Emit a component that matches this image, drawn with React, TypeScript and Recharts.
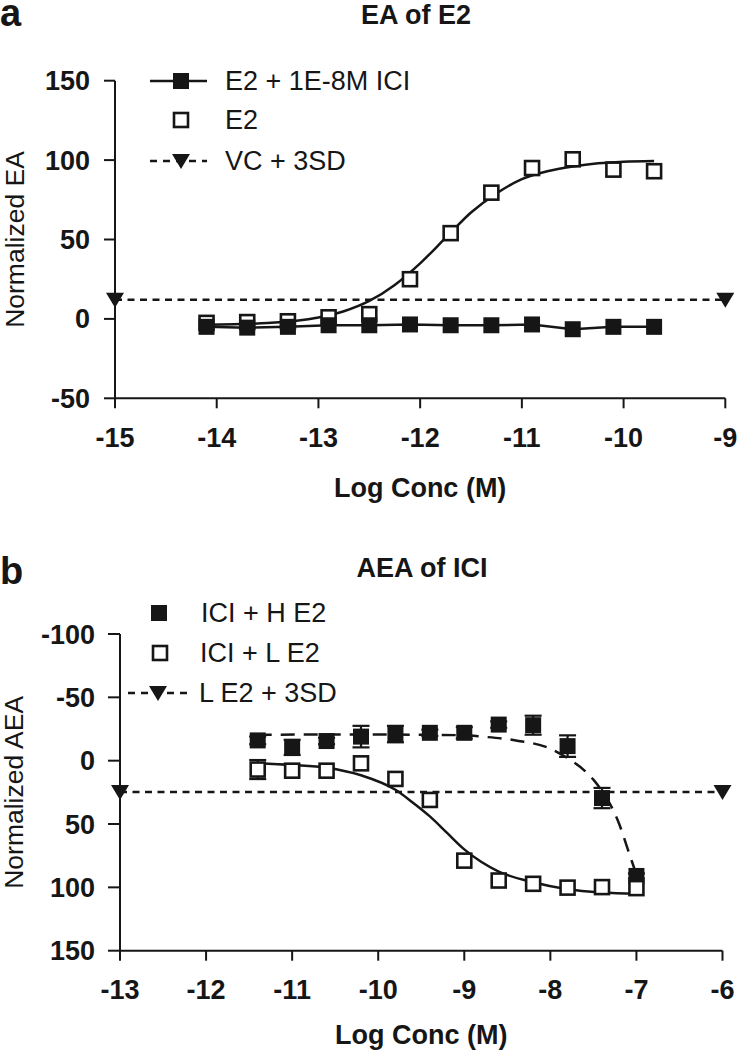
import React from 'react';
import { ComposedChart, Line, Scatter, XAxis, YAxis, ErrorBar, Legend } from 'recharts';

const FONT = '"Liberation Sans", Arial, Helvetica, sans-serif';
const INK = '#161616';

// ---------- Panel a : EA of E2 ----------
const aTicksX = [-15, -14, -13, -12, -11, -10, -9];
const aTicksY = [-50, 0, 50, 100, 150];
const aConc = [-14.1, -13.7, -13.3, -12.9, -12.5, -12.1, -11.7, -11.3, -10.9, -10.5, -10.1, -9.7];
const aE2ICI = [-5, -5.5, -5, -4, -4, -3.5, -4, -4, -3.5, -6.5, -5, -5];
const aE2 = [-2.5, -2, -1.5, 1, 3, 25, 54, 79.5, 95, 100.5, 94, 93];
const aFitConc = [-14.1, -13.5, -13, -12.75, -12.5, -12.25, -12, -11.75, -11.5, -11.25, -11, -10.75, -10.5, -10.25, -10, -9.7];
const aFitE2 = [-3.7, -2.6, 0.9, 4.8, 11.3, 21.4, 35, 51, 67, 79, 88, 93, 96, 98, 99, 99.5];
const aVCConc = [-15, -9];
const aVC = [12, 12];

// ---------- Panel b : AEA of ICI ----------
const bTicksX = [-13, -12, -11, -10, -9, -8, -7, -6];
const bTicksY = [-100, -50, 0, 50, 100, 150];
const bConc = [-11.4, -11, -10.6, -10.2, -9.8, -9.4, -9, -8.6, -8.2, -7.8, -7.4, -7];
const bHighE2 = [-16, -10.5, -15.5, -19, -21, -22, -22, -28.5, -28, -11.5, 29.5, 91];
const bHighErr = [3, 6, 2.5, 8.5, 6.5, 2.5, 4.5, 2.5, 7.5, 8.5, 8, 2];
const bLowE2 = [7, 7.9, 7.9, 2.1, 14.4, 31, 78.9, 94.6, 97.2, 100.2, 99.8, 100.6];
const bLowErr = [7.5, 0, 0, 0, 0, 0, 0, 0, 0, 0, 0, 0];
const bFitHighConc = [-11.4, -10.6, -10, -9.5, -9, -8.8, -8.4, -8, -7.8, -7.6, -7.5, -7.4, -7.3, -7.2, -7.1, -7];
const bFitHigh = [-20.5, -20.6, -20.6, -20.5, -20, -19, -16, -9.5, -2, 8, 15, 24, 35, 50, 70, 90];
const bFitLowConc = [-11.4, -11, -10.6, -10.2, -9.8, -9.6, -9.4, -9.2, -9, -8.8, -8.6, -8.2, -7.8, -7.4, -7];
const bFitLow = [2, 3.4, 5.5, 11.5, 23, 33, 44, 57, 70, 80, 87.5, 96, 101.5, 104, 105];
const bRefConc = [-13, -6];
const bRef = [24.7, 24.7];

const pts = (xs: number[], ys: number[], errs?: number[]) =>
  xs.map((x, i) => (errs ? { x, y: ys[i], err: errs[i] } : { x, y: ys[i] }));

const aE2ICIData = pts(aConc, aE2ICI);
const aE2Data = pts(aConc, aE2);
const aFitData = pts(aFitConc, aFitE2);
const aVCData = pts(aVCConc, aVC);

const bHighData = pts(bConc, bHighE2, bHighErr);
const bLowData = pts(bConc, bLowE2, bLowErr);
const bLowErrData = bLowData.filter((d: any) => d.err > 0);
const bFitHighData = pts(bFitHighConc, bFitHigh);
const bFitLowData = pts(bFitLowConc, bFitLow);
const bRefData = pts(bRefConc, bRef);

const OpenSquare = (p: any) =>
  p.cx == null ? null : (
    <rect x={p.cx - 7} y={p.cy - 7} width={14} height={14} fill="#fff" stroke={INK} strokeWidth={2.6} />
  );
const FilledSquare = (p: any) =>
  p.cx == null ? null : <rect x={p.cx - 8} y={p.cy - 8} width={16} height={16} fill={INK} />;
const DownTriangle = (p: any) =>
  p.cx == null ? null : (
    <polygon points={`${p.cx - 9},${p.cy - 7} ${p.cx + 9},${p.cy - 7} ${p.cx},${p.cy + 8}`} fill={INK} />
  );
const Nothing = () => <g />;

const tickStyle = { fill: INK, fontSize: 27, fontWeight: 700, fontFamily: FONT };
const lineStyle = { stroke: INK, strokeWidth: 2 };

const yLabel = (text: string, x: number) => (props: any) => {
  const vb = props.viewBox || {};
  const cy = vb.y + vb.height / 2;
  return (
    <text
      x={x}
      y={cy}
      transform={`rotate(-90 ${x} ${cy})`}
      textAnchor="middle"
      dominantBaseline="central"
      fontFamily={FONT}
      fontSize={26.5}
      fill={INK}
    >
      {text}
    </text>
  );
};

const xLabel = (text: string, dy: number) => (props: any) => {
  const vb = props.viewBox || {};
  return (
    <text
      x={vb.x + vb.width / 2}
      y={vb.y + dy}
      textAnchor="middle"
      dominantBaseline="central"
      fontFamily={FONT}
      fontSize={27}
      fontWeight={700}
      fill={INK}
    >
      {text}
    </text>
  );
};

const txt = { fontFamily: FONT, fontSize: 27, fill: INK };

const OverlayA = () => (
  <svg width={738} height={510} style={{ display: 'block' }}>
    <text x={0} y={13} dominantBaseline="central" fontFamily={FONT} fontSize={38} fontWeight={700} fill={INK}>a</text>
    <text x={416} y={14.5} textAnchor="middle" dominantBaseline="central" fontFamily={FONT} fontSize={27} fontWeight={700} fill={INK}>EA of E2</text>
    <line x1={150} x2={207} y1={81} y2={81} stroke={INK} strokeWidth={2.5} />
    <rect x={173} y={73} width={16} height={16} fill={INK} />
    <text x={225} y={81} dominantBaseline="central" {...txt}>E2 + 1E-8M ICI</text>
    <rect x={174} y={113} width={14} height={14} fill="#fff" stroke={INK} strokeWidth={2.6} />
    <text x={225} y={120} dominantBaseline="central" {...txt}>E2</text>
    <line x1={150} x2={207} y1={161} y2={161} stroke={INK} strokeWidth={2.5} strokeDasharray="7 6" />
    <polygon points="172,154 190,154 181,169" fill={INK} />
    <text x={225} y={161} dominantBaseline="central" {...txt}>VC + 3SD</text>
  </svg>
);

const OverlayB = () => (
  <svg width={738} height={530} style={{ display: 'block' }}>
    <text x={0} y={51} dominantBaseline="central" fontFamily={FONT} fontSize={38} fontWeight={700} fill={INK}>b</text>
    <text x={422} y={48} textAnchor="middle" dominantBaseline="central" fontFamily={FONT} fontSize={27} fontWeight={700} fill={INK}>AEA of ICI</text>
    <rect x={151} y={85} width={16} height={16} fill={INK} />
    <text x={201} y={93} dominantBaseline="central" {...txt}>ICI + H E2</text>
    <rect x={153} y={126} width={14} height={14} fill="#fff" stroke={INK} strokeWidth={2.6} />
    <text x={200} y={133} dominantBaseline="central" {...txt}>ICI + L E2</text>
    <line x1={128} x2={193} y1={173} y2={173} stroke={INK} strokeWidth={2.5} strokeDasharray="7 6" />
    <polygon points="149,166 167,166 158,181" fill={INK} />
    <text x={199} y={173} dominantBaseline="central" {...txt}>L E2 + 3SD</text>
  </svg>
);

const legendWrap = (h: number) => ({
  position: 'absolute' as const,
  left: 0,
  top: 0,
  width: 738,
  height: h,
  margin: 0,
  pointerEvents: 'none' as const,
});

export default function App() {
  return (
    <div style={{ position: 'absolute', left: 0, top: 0, width: 738, height: 1050, background: '#fff', overflow: 'hidden' }}>
      <div style={{ position: 'absolute', left: 0, top: 0 }}>
        <ComposedChart width={738} height={510} margin={{ top: 80.7, right: 12.7, left: 0, bottom: 11.7 }}>
          <XAxis
            type="number"
            dataKey="x"
            domain={[-15, -9]}
            ticks={aTicksX}
            height={100}
            tickSize={10}
            tickMargin={20}
            tick={tickStyle}
            tickLine={lineStyle}
            axisLine={lineStyle}
            label={{ content: xLabel('Log Conc (M)', 90) }}
          />
          <YAxis
            type="number"
            dataKey="y"
            domain={[-50, 150]}
            ticks={aTicksY}
            width={115}
            tickSize={11}
            tickMargin={14}
            tick={tickStyle}
            tickLine={lineStyle}
            axisLine={lineStyle}
            label={{ content: yLabel('Normalized EA', 14.5) }}
          />
          <Legend layout="vertical" align="center" verticalAlign="middle" wrapperStyle={legendWrap(510)} content={() => <OverlayA />} />
          <Line data={aVCData} dataKey="y" type="linear" stroke={INK} strokeWidth={2.5} strokeDasharray="7 5.5" dot={false} isAnimationActive={false} legendType="none" />
          <Scatter data={aVCData} dataKey="y" shape={DownTriangle} isAnimationActive={false} legendType="none" />
          <Line data={aFitData} dataKey="y" type="monotone" stroke={INK} strokeWidth={2.5} dot={false} isAnimationActive={false} legendType="none" />
          <Scatter data={aE2Data} dataKey="y" shape={OpenSquare} isAnimationActive={false} legendType="none" />
          <Line data={aE2ICIData} dataKey="y" type="linear" stroke={INK} strokeWidth={2.5} dot={false} isAnimationActive={false} legendType="none" />
          <Scatter data={aE2ICIData} dataKey="y" shape={FilledSquare} isAnimationActive={false} legendType="none" />
        </ComposedChart>
      </div>
      <div style={{ position: 'absolute', left: 0, top: 520 }}>
        <ComposedChart width={738} height={530} margin={{ top: 114, right: 15.5, left: 0, bottom: 9.3 }}>
          <XAxis
            type="number"
            dataKey="x"
            domain={[-13, -6]}
            ticks={bTicksX}
            height={90}
            tickSize={10}
            tickMargin={19}
            tick={tickStyle}
            tickLine={lineStyle}
            axisLine={lineStyle}
            label={{ content: xLabel('Log Conc (M)', 84) }}
          />
          <YAxis
            type="number"
            dataKey="y"
            domain={[-100, 150]}
            ticks={bTicksY}
            reversed
            width={120}
            tickSize={12}
            tickMargin={13}
            tick={tickStyle}
            tickLine={lineStyle}
            axisLine={lineStyle}
            label={{ content: yLabel('Normalized AEA', 14.5) }}
          />
          <Legend layout="vertical" align="center" verticalAlign="middle" wrapperStyle={legendWrap(530)} content={() => <OverlayB />} />
          <Line data={bRefData} dataKey="y" type="linear" stroke={INK} strokeWidth={2.5} strokeDasharray="7 5.5" dot={false} isAnimationActive={false} legendType="none" />
          <Scatter data={bRefData} dataKey="y" shape={DownTriangle} isAnimationActive={false} legendType="none" />
          <Line data={bFitHighData} dataKey="y" type="monotone" stroke={INK} strokeWidth={2.5} strokeDasharray="14 9" dot={false} isAnimationActive={false} legendType="none" />
          <Line data={bFitLowData} dataKey="y" type="monotone" stroke={INK} strokeWidth={2.5} dot={false} isAnimationActive={false} legendType="none" />
          <Scatter data={bHighData} dataKey="y" shape={FilledSquare} isAnimationActive={false} legendType="none">
            <ErrorBar dataKey="err" direction="y" width={8.5} stroke={INK} strokeWidth={2.2} />
          </Scatter>
          <Scatter data={bLowData} dataKey="y" shape={OpenSquare} isAnimationActive={false} legendType="none" />
          <Scatter data={bLowErrData} dataKey="y" shape={Nothing} isAnimationActive={false} legendType="none">
            <ErrorBar dataKey="err" direction="y" width={8.5} stroke={INK} strokeWidth={2.2} />
          </Scatter>
        </ComposedChart>
      </div>
    </div>
  );
}
